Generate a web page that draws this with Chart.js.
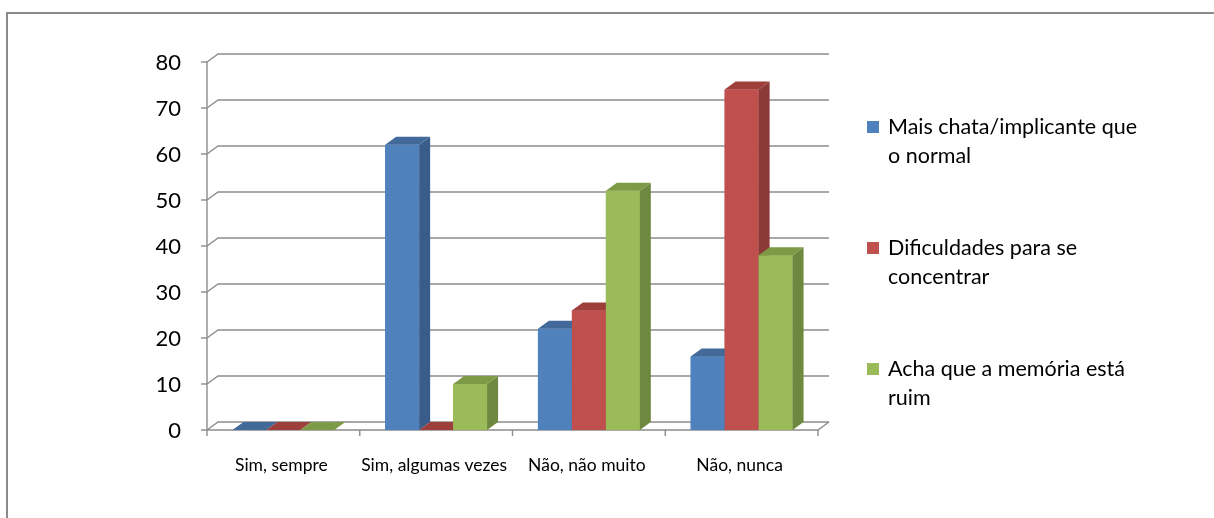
<!DOCTYPE html>
<html>
<head>
<meta charset="utf-8">
<script src="https://cdn.jsdelivr.net/npm/chart.js@4/dist/chart.umd.min.js"></script>
<style>
  html, body { margin: 0; padding: 0; background: #fff; }
  #wrap { width: 1214px; height: 518px; }
</style>
</head>
<body>
<div id="wrap"><canvas id="chart" width="1214" height="518"></canvas></div>
<script>
// Data
const categories = ['Sim, sempre', 'Sim, algumas vezes', 'Não, não muito', 'Não, nunca'];
const chataValues = [0, 62, 22, 16];
const concentrarValues = [0, 0, 26, 74];
const memoriaValues = [0, 10, 52, 38];
const yTicks = [0, 10, 20, 30, 40, 50, 60, 70, 80];
const legendLines = [
    ['Mais chata/implicante que', 'o normal'],
    ['Dificuldades para se', 'concentrar'],
    ['Acha que a memória está', 'ruim']
];

// 3D look
const DEPTH_X = 11;
const DEPTH_Y = 8;
const faceColors = [
    { front: '#4F81BD', side: '#385D8A', top: '#41699A' },
    { front: '#C0504D', side: '#8C3A38', top: '#9E3F3C' },
    { front: '#9BBB59', side: '#6F883F', top: '#7D9A46' }
];
const gridColor = '#8c8c8c';
const FONT = 'Lato, "Liberation Sans", sans-serif';

function poly(ctx, pts, color) {
    ctx.beginPath();
    ctx.moveTo(pts[0][0], pts[0][1]);
    for (let i = 1; i < pts.length; i++) ctx.lineTo(pts[i][0], pts[i][1]);
    ctx.closePath();
    ctx.fillStyle = color;
    ctx.fill();
}

const backdrop = {
    id: 'backdrop',
    beforeDatasetsDraw(chart) {
        const ctx = chart.ctx;
        const area = chart.chartArea;
        const y = chart.scales.y;
        const x = chart.scales.x;
        ctx.save();

        // outer frame
        ctx.strokeStyle = '#8a8a8a';
        ctx.lineWidth = 2;
        ctx.beginPath();
        ctx.moveTo(7, 530);
        ctx.lineTo(7, 13);
        ctx.lineTo(1230, 13);
        ctx.stroke();

        // back wall gridlines
        ctx.strokeStyle = gridColor;
        ctx.lineWidth = 1.4;
        yTicks.forEach(v => {
            const py = y.getPixelForValue(v);
            ctx.beginPath();
            ctx.moveTo(area.left, py);
            ctx.lineTo(area.left + DEPTH_X, py - DEPTH_Y);
            ctx.lineTo(area.right + DEPTH_X, py - DEPTH_Y);
            ctx.stroke();
            // tick mark
            ctx.beginPath();
            ctx.moveTo(area.left - 6, py);
            ctx.lineTo(area.left, py);
            ctx.stroke();
        });

        // vertical axis
        ctx.beginPath();
        ctx.moveTo(area.left, y.getPixelForValue(yTicks[yTicks.length - 1]));
        ctx.lineTo(area.left, y.getPixelForValue(0));
        ctx.stroke();

        // floor front edge
        const base = y.getPixelForValue(0);
        ctx.beginPath();
        ctx.moveTo(area.left, base);
        ctx.lineTo(area.right, base);
        ctx.lineTo(area.right + DEPTH_X, base - DEPTH_Y);
        ctx.stroke();

        // category ticks
        const step = (area.right - area.left) / categories.length;
        for (let i = 0; i <= categories.length; i++) {
            const px = area.left + i * step;
            ctx.beginPath();
            ctx.moveTo(px, base);
            ctx.lineTo(px, base + 6);
            ctx.stroke();
        }

        // y labels
        ctx.fillStyle = '#000';
        ctx.font = '22px ' + FONT;
        ctx.textAlign = 'right';
        ctx.textBaseline = 'middle';
        yTicks.forEach(v => {
            ctx.fillText(String(v), area.left - 26, y.getPixelForValue(v) + 1);
        });

        // category labels
        ctx.font = '17.5px ' + FONT;
        ctx.textAlign = 'center';
        categories.forEach((c, i) => {
            ctx.fillText(c, x.getPixelForValue(i) - 2, base + 35);
        });

        // legend
        ctx.font = '21.5px ' + FONT;
        ctx.textAlign = 'left';
        chart.data.datasets.forEach((ds, i) => {
            const top = 127 + i * 121;
            ctx.fillStyle = faceColors[i].front;
            ctx.fillRect(867, top - 6, 12, 12);
            ctx.fillStyle = '#000';
            legendLines[i].forEach((line, j) => {
                ctx.fillText(line, 888, top + j * 29);
            });
        });
        ctx.restore();
    },
    afterDatasetsDraw(chart) {
        const ctx = chart.ctx;
        ctx.save();
        const metas = chart.data.datasets.map((d, i) => chart.getDatasetMeta(i));
        for (let c = 0; c < categories.length; c++) {
            metas.forEach((meta, d) => {
                const bar = meta.data[c];
                const p = bar.getProps(['x', 'y', 'width', 'base'], true);
                const x0 = p.x - p.width / 2;
                const x1 = p.x + p.width / 2;
                const top = Math.min(p.y, p.base);
                const bottom = p.base;
                const col = faceColors[d];
                ctx.fillStyle = col.front;
                ctx.fillRect(x0, top, x1 - x0, bottom - top);
                poly(ctx, [[x1, top], [x1 + DEPTH_X, top - DEPTH_Y], [x1 + DEPTH_X, bottom - DEPTH_Y], [x1, bottom]], col.side);
                poly(ctx, [[x0, top], [x1, top], [x1 + DEPTH_X, top - DEPTH_Y], [x0 + DEPTH_X, top - DEPTH_Y]], col.top);
            });
        }
        ctx.restore();
    }
};

new Chart(document.getElementById('chart'), {
    type: 'bar',
    data: {
        labels: categories,
        datasets: [
            { label: legendLines[0].join(' '), data: chataValues, backgroundColor: faceColors[0].front },
            { label: legendLines[1].join(' '), data: concentrarValues, backgroundColor: faceColors[1].front },
            { label: legendLines[2].join(' '), data: memoriaValues, backgroundColor: faceColors[2].front }
        ]
    },
    options: {
        responsive: false,
        animation: false,
        layout: { padding: { left: 207, right: 396, top: 62, bottom: 88 } },
        datasets: { bar: { categoryPercentage: 0.667, barPercentage: 1 } },
        plugins: { legend: { display: false }, tooltip: { enabled: false } },
        scales: {
            x: { display: false },
            y: { display: false, min: 0, max: 80 }
        }
    },
    plugins: [backdrop]
});
</script>
</body>
</html>
